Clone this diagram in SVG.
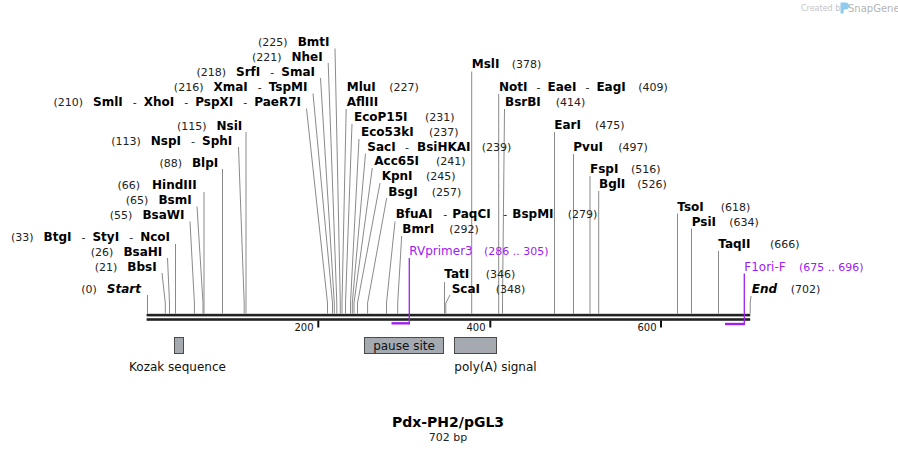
<svg xmlns="http://www.w3.org/2000/svg" width="898" height="453" viewBox="0 0 898 453">
<style>
text{font-family:"DejaVu Sans",Verdana,sans-serif;fill:#111}
.n{font-size:11px;font-weight:normal;fill:#222}
.b{font-size:12px;font-weight:bold;fill:#000}
.bi{font-size:12px;font-weight:bold;font-style:italic;fill:#000}
.pn{font-size:12px;fill:#a020f0}
.pc{font-size:11px;fill:#a020f0}
.cl{fill:none;stroke:#8a8a8a;stroke-width:1}
.pl{fill:none;stroke:#a020f0}
.bb{fill:#222}
.tk{stroke:#111;stroke-width:2}
.tl{font-size:10px;fill:#111}
.ft{fill:#a5aab1;stroke:#4a4a4a;stroke-width:1}
.fl{font-size:12px;fill:#111}
</style>
<rect width="898" height="453" fill="#fff"/>
<g id="watermark">
<text x="801" y="11" style="font-size:8px;fill:#c4c4c4">Created by</text>
<path d="M840.5,2.5h5a3.5,3.5 0 0 1 0,7h-2v4h-3z" fill="#8fcbf0"/>
<text x="848" y="11.5" style="font-size:10px;fill:#b5b5b5">SnapGene</text>
</g>
<g id="connectors">
<path class="cl" d="M147.5,295V313.5"/>
<path class="cl" d="M162,273L165.3,303V313.5"/>
<path class="cl" d="M167.5,258L169.5,303V313.5"/>
<path class="cl" d="M175.5,244V313.5"/>
<path class="cl" d="M190,221.5L194.4,303V313.5"/>
<path class="cl" d="M197,206.5L203,303V313.5"/>
<path class="cl" d="M204,192V313.5"/>
<path class="cl" d="M222.5,169V313.5"/>
<path class="cl" d="M238.5,147L244.2,303V313.5"/>
<path class="cl" d="M246,132V313.5"/>
<path class="cl" d="M306.5,108.5L327.5,303V313.5"/>
<path class="cl" d="M313,93.5L332.5,303V313.5"/>
<path class="cl" d="M320.5,78L334.3,303V313.5"/>
<path class="cl" d="M328.2,63L336.8,303V313.5"/>
<path class="cl" d="M335,48.5L340.3,303V313.5"/>
<path class="cl" d="M346.2,109L342,303V313.5"/>
<path class="cl" d="M352,124L345.5,303V313.5"/>
<path class="cl" d="M359,139L350.5,303V313.5"/>
<path class="cl" d="M365.5,153.5L352.3,303V313.5"/>
<path class="cl" d="M372.3,168L354,303V313.5"/>
<path class="cl" d="M380,183L357.5,303V313.5"/>
<path class="cl" d="M386.7,198L367.6,303V313.5"/>
<path class="cl" d="M395,221.5L386.5,303V313.5"/>
<path class="cl" d="M401.7,236L397.7,303V313.5"/>
<path class="cl" d="M444.5,282V313.5"/>
<path class="cl" d="M450,295L445.8,303V313.5"/>
<path class="cl" d="M471.7,71.5V313.5"/>
<path class="cl" d="M498.7,94V313.5"/>
<path class="cl" d="M504.5,109L502.5,303V313.5"/>
<path class="cl" d="M554.5,132V313.5"/>
<path class="cl" d="M573.5,154V313.5"/>
<path class="cl" d="M590,176V313.5"/>
<path class="cl" d="M598.7,191V313.5"/>
<path class="cl" d="M677.5,213.5V313.5"/>
<path class="cl" d="M691.5,228.5V313.5"/>
<path class="cl" d="M718.5,251V313.5"/>
<path class="cl" d="M751,296L750.2,303V313.5"/>
</g>
<g id="backbone">
<rect class="bb" x="146.6" y="313.8" width="603.6" height="2.6"/>
<rect class="bb" x="146.6" y="318.2" width="603.6" height="2.6"/>
<line class="tk" x1="318.3" y1="320.5" x2="318.3" y2="327.5"/>
<line class="tk" x1="490.3" y1="320.5" x2="490.3" y2="327.5"/>
<line class="tk" x1="661" y1="320.5" x2="661" y2="327.5"/>
<text class="tl" x="313.5" y="330.5" text-anchor="end">200</text>
<text class="tl" x="485.5" y="330.5" text-anchor="end">400</text>
<text class="tl" x="656.5" y="330.5" text-anchor="end">600</text>
</g>
<g id="primer-RVprimer3">
<path class="pl" d="M409.3,258V324.5" stroke-width="1.3"/>
<path class="pl" d="M391.5,323.3H409.3" stroke-width="2.4"/>
<text x="409.3" y="255"><tspan class="pn">RVprimer3</tspan><tspan class="pc" x="484">(286 .. 305)</tspan></text>
</g>
<g id="primer-F1ori-F">
<path class="pl" d="M744.3,273.5V325" stroke-width="1.3"/>
<path class="pl" d="M725,324H744.3" stroke-width="2.4"/>
<text x="744.3" y="270.7"><tspan class="pn">F1ori-F</tspan><tspan class="pc" x="799">(675 .. 696)</tspan></text>
</g>
<g id="site-BmtI"><text x="329.5" y="46" text-anchor="end"><tspan class="n">(225)</tspan><tspan class="b" dx="10">BmtI</tspan></text></g>
<g id="site-NheI"><text x="322.7" y="60.5" text-anchor="end"><tspan class="n">(221)</tspan><tspan class="b" dx="10">NheI</tspan></text></g>
<g id="site-SrfI"><text x="315" y="75.5" text-anchor="end"><tspan class="n">(218)</tspan><tspan class="b" dx="10">SrfI</tspan><tspan class="n" dx="10">-</tspan><tspan class="b" dx="7">SmaI</tspan></text></g>
<g id="site-XmaI"><text x="307.5" y="91" text-anchor="end"><tspan class="n">(216)</tspan><tspan class="b" dx="10">XmaI</tspan><tspan class="n" dx="10">-</tspan><tspan class="b" dx="7">TspMI</tspan></text></g>
<g id="site-SmlI"><text x="301" y="106" text-anchor="end"><tspan class="n">(210)</tspan><tspan class="b" dx="10">SmlI</tspan><tspan class="n" dx="10">-</tspan><tspan class="b" dx="7">XhoI</tspan><tspan class="n" dx="10">-</tspan><tspan class="b" dx="7">PspXI</tspan><tspan class="n" dx="10">-</tspan><tspan class="b" dx="7">PaeR7I</tspan></text></g>
<g id="site-NsiI"><text x="242.3" y="129.5" text-anchor="end"><tspan class="n">(115)</tspan><tspan class="b" dx="10">NsiI</tspan></text></g>
<g id="site-NspI"><text x="232.3" y="144.5" text-anchor="end"><tspan class="n">(113)</tspan><tspan class="b" dx="10">NspI</tspan><tspan class="n" dx="10">-</tspan><tspan class="b" dx="7">SphI</tspan></text></g>
<g id="site-BlpI"><text x="218.3" y="166.5" text-anchor="end"><tspan class="n">(88)</tspan><tspan class="b" dx="10">BlpI</tspan></text></g>
<g id="site-HindIII"><text x="196.7" y="189.3" text-anchor="end"><tspan class="n">(66)</tspan><tspan class="b" dx="12">HindIII</tspan></text></g>
<g id="site-BsmI"><text x="191.7" y="204" text-anchor="end"><tspan class="n">(65)</tspan><tspan class="b" dx="10">BsmI</tspan></text></g>
<g id="site-BsaWI"><text x="184.5" y="219" text-anchor="end"><tspan class="n">(55)</tspan><tspan class="b" dx="10">BsaWI</tspan></text></g>
<g id="site-BtgI"><text x="170" y="241" text-anchor="end"><tspan class="n">(33)</tspan><tspan class="b" dx="10">BtgI</tspan><tspan class="n" dx="10">-</tspan><tspan class="b" dx="7">StyI</tspan><tspan class="n" dx="10">-</tspan><tspan class="b" dx="7">NcoI</tspan></text></g>
<g id="site-BsaHI"><text x="162.3" y="255.7" text-anchor="end"><tspan class="n">(26)</tspan><tspan class="b" dx="10">BsaHI</tspan></text></g>
<g id="site-BbsI"><text x="156.7" y="271" text-anchor="end"><tspan class="n">(21)</tspan><tspan class="b" dx="10">BbsI</tspan></text></g>
<g id="site-Start"><text x="141" y="292.7" text-anchor="end"><tspan class="n">(0)</tspan><tspan class="bi" dx="10">Start</tspan></text></g>
<g id="site-MluI"><text x="346.7" y="90.7"><tspan class="b">MluI</tspan><tspan class="n" x="389.3">(227)</tspan></text></g>
<g id="site-AflIII"><text x="346.7" y="106"><tspan class="b">AflIII</tspan></text></g>
<g id="site-EcoP15I"><text x="354" y="121"><tspan class="b">EcoP15I</tspan><tspan class="n" x="425">(231)</tspan></text></g>
<g id="site-Eco53kI"><text x="361" y="136"><tspan class="b">Eco53kI</tspan><tspan class="n" x="429">(237)</tspan></text></g>
<g id="site-SacI"><text x="367.3" y="150.7"><tspan class="b">SacI</tspan><tspan class="n" x="405">-</tspan><tspan class="b" x="417">BsiHKAI</tspan><tspan class="n" x="481.7">(239)</tspan></text></g>
<g id="site-Acc65I"><text x="374.3" y="165.3"><tspan class="b">Acc65I</tspan><tspan class="n" x="436">(241)</tspan></text></g>
<g id="site-KpnI"><text x="381.7" y="180.3"><tspan class="b">KpnI</tspan><tspan class="n" x="426">(245)</tspan></text></g>
<g id="site-BsgI"><text x="388.3" y="195.7"><tspan class="b">BsgI</tspan><tspan class="n" x="431.7">(257)</tspan></text></g>
<g id="site-BfuAI"><text x="395.7" y="218.3"><tspan class="b">BfuAI</tspan><tspan class="n" x="443.3">-</tspan><tspan class="b" x="452.3">PaqCI</tspan><tspan class="n" x="503.3">-</tspan><tspan class="b" x="512.3">BspMI</tspan><tspan class="n" x="567.7">(279)</tspan></text></g>
<g id="site-BmrI"><text x="402.3" y="233.3"><tspan class="b">BmrI</tspan><tspan class="n" x="449.3">(292)</tspan></text></g>
<g id="site-TatI"><text x="444.3" y="278.3"><tspan class="b">TatI</tspan><tspan class="n" x="485.7">(346)</tspan></text></g>
<g id="site-ScaI"><text x="451.7" y="293.3"><tspan class="b">ScaI</tspan><tspan class="n" x="495.7">(348)</tspan></text></g>
<g id="site-MslI"><text x="471.7" y="68"><tspan class="b">MslI</tspan><tspan class="n" x="511.7">(378)</tspan></text></g>
<g id="site-NotI"><text x="499" y="91"><tspan class="b">NotI</tspan><tspan class="n" dx="9">-</tspan><tspan class="b" dx="7">EaeI</tspan><tspan class="n" dx="9">-</tspan><tspan class="b" dx="7">EagI</tspan><tspan class="n" x="638.3">(409)</tspan></text></g>
<g id="site-BsrBI"><text x="505" y="106"><tspan class="b">BsrBI</tspan><tspan class="n" x="555.7">(414)</tspan></text></g>
<g id="site-EarI"><text x="554.3" y="129"><tspan class="b">EarI</tspan><tspan class="n" x="595">(475)</tspan></text></g>
<g id="site-PvuI"><text x="573.3" y="151"><tspan class="b">PvuI</tspan><tspan class="n" x="618.3">(497)</tspan></text></g>
<g id="site-FspI"><text x="590" y="173.3"><tspan class="b">FspI</tspan><tspan class="n" x="631">(516)</tspan></text></g>
<g id="site-BglI"><text x="599" y="188.3"><tspan class="b">BglI</tspan><tspan class="n" x="637.3">(526)</tspan></text></g>
<g id="site-TsoI"><text x="677.3" y="210.7"><tspan class="b">TsoI</tspan><tspan class="n" x="720.7">(618)</tspan></text></g>
<g id="site-PsiI"><text x="691.7" y="225.7"><tspan class="b">PsiI</tspan><tspan class="n" x="729.3">(634)</tspan></text></g>
<g id="site-TaqII"><text x="718.3" y="248.3"><tspan class="b">TaqII</tspan><tspan class="n" x="770">(666)</tspan></text></g>
<g id="site-End"><text x="751.7" y="293.3"><tspan class="bi">End</tspan><tspan class="n" x="790.7">(702)</tspan></text></g>
<g id="feature-kozak">
<rect class="ft" x="174.5" y="337.5" width="9" height="16"/>
<text class="fl" x="177.5" y="370.5" text-anchor="middle">Kozak sequence</text>
</g>
<g id="feature-pause">
<rect class="ft" x="364.5" y="337.5" width="79" height="16"/>
<text class="fl" x="404" y="349.5" text-anchor="middle">pause site</text>
</g>
<g id="feature-polyA">
<rect class="ft" x="454.5" y="337.5" width="42" height="16"/>
<text class="fl" x="495.5" y="370.5" text-anchor="middle">poly(A) signal</text>
</g>
<g id="title">
<text x="448" y="426.7" text-anchor="middle" style="font-size:14px;font-weight:bold;fill:#000">Pdx-PH2/pGL3</text>
<text x="448" y="440.7" text-anchor="middle" style="font-size:11px;fill:#222">702 bp</text>
</g>
</svg>
